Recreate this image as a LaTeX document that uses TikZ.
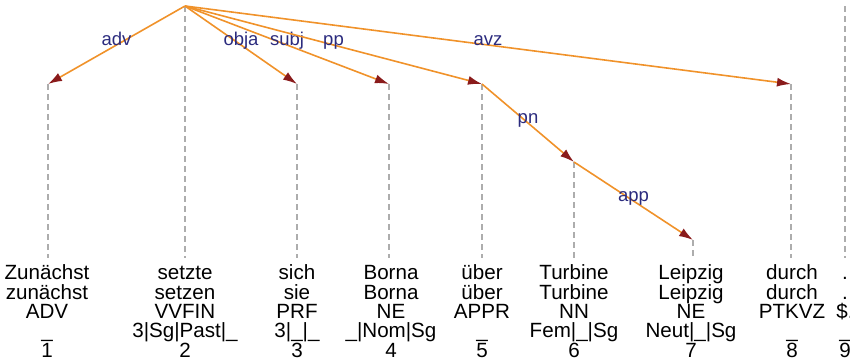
\documentclass[tikz,border=0pt]{standalone}
\usepackage{fontspec}
\setmainfont{Liberation Sans}
\usetikzlibrary{arrows.meta}
\definecolor{edgeorange}{HTML}{F0922A}
\definecolor{tipred}{HTML}{8A1B1B}
\definecolor{labelblue}{HTML}{2B2B7E}
\definecolor{guidegray}{HTML}{ADADAD}
\tikzstyle{token} = [align=center, anchor=base, inner sep=0pt,
   font=\fontsize{20.6}{19.3}\selectfont]
\tikzstyle{line} = [draw=edgeorange, line width=1.6pt,
   -{Latex[length=14pt,width=9pt,color=tipred]}]
\tikzstyle{guide} = [draw=guidegray, line width=1.2pt, dash pattern=on 6pt off 4pt]
\tikzstyle{deprel} = [text=labelblue, anchor=base, inner sep=0pt,
   font=\fontsize{18.5}{18}\selectfont]

\begin{document}
\begin{tikzpicture}[x=1pt, y=-1pt]
\useasboundingbox (0,0) rectangle (850,362);
\clip (0,0) rectangle (850,362);
% Place nodes
\coordinate (zunaechst) at (48,84);
\coordinate (setzte) at (185,6);
\coordinate (sich) at (297,84);
\coordinate (borna) at (389,84);
\coordinate (ueber) at (482,84);
\coordinate (turbine) at (574,162);
\coordinate (leipzig) at (693,240);
\coordinate (durch) at (791,84);
\coordinate (punct) at (845,6);
% base is the last line (the index)
\node [token] (zunaechstTxt) at (47,357) {Zunächst\\zunächst\\ADV\\\_\\1};
\node [token] (setzteTxt) at (185,357) {setzte\\setzen\\VVFIN\\3|Sg|Past|\_\\2};
\node [token] (sichTxt) at (297,357) {sich\\sie\\PRF\\3|\_|\_\\3};
\node [token] (bornaTxt) at (391,357) {Borna\\Borna\\NE\\\_|Nom|Sg\\4};
\node [token] (ueberTxt) at (482,357) {über\\über\\APPR\\\_\\5};
\node [token] (turbineTxt) at (574,357) {Turbine\\Turbine\\NN\\Fem|\_|Sg\\6};
\node [token] (leipzigTxt) at (691,357) {Leipzig\\Leipzig\\NE\\Neut|\_|Sg\\7};
\node [token] (durchTxt) at (792,357) {durch\\durch\\PTKVZ\\\_\\8};
\node [token] (punctTxt) at (845,357) {.\\.\\\$.\\\_\\9};
% Draw guides
\foreach \w in {zunaechst,setzte,sich,borna,ueber,turbine,leipzig,durch,punct}
  \path [guide] (\w) -- (\w |- 0,258);
% Draw edges
\path [line] (setzte) -- node [deprel] {adv} (zunaechst);
\path [line] (setzte) -- node [deprel] {obja} (sich);
\path [line] (setzte) -- node [deprel] {subj} (borna);
\path [line] (setzte) -- node [deprel] {pp} (ueber);
\path [line] (setzte) -- node [deprel] {avz} (durch);
\path [line] (ueber) -- node [deprel] {pn} (turbine);
\path [line] (turbine) -- node [deprel] {app} (leipzig);
\end{tikzpicture}
\end{document}
